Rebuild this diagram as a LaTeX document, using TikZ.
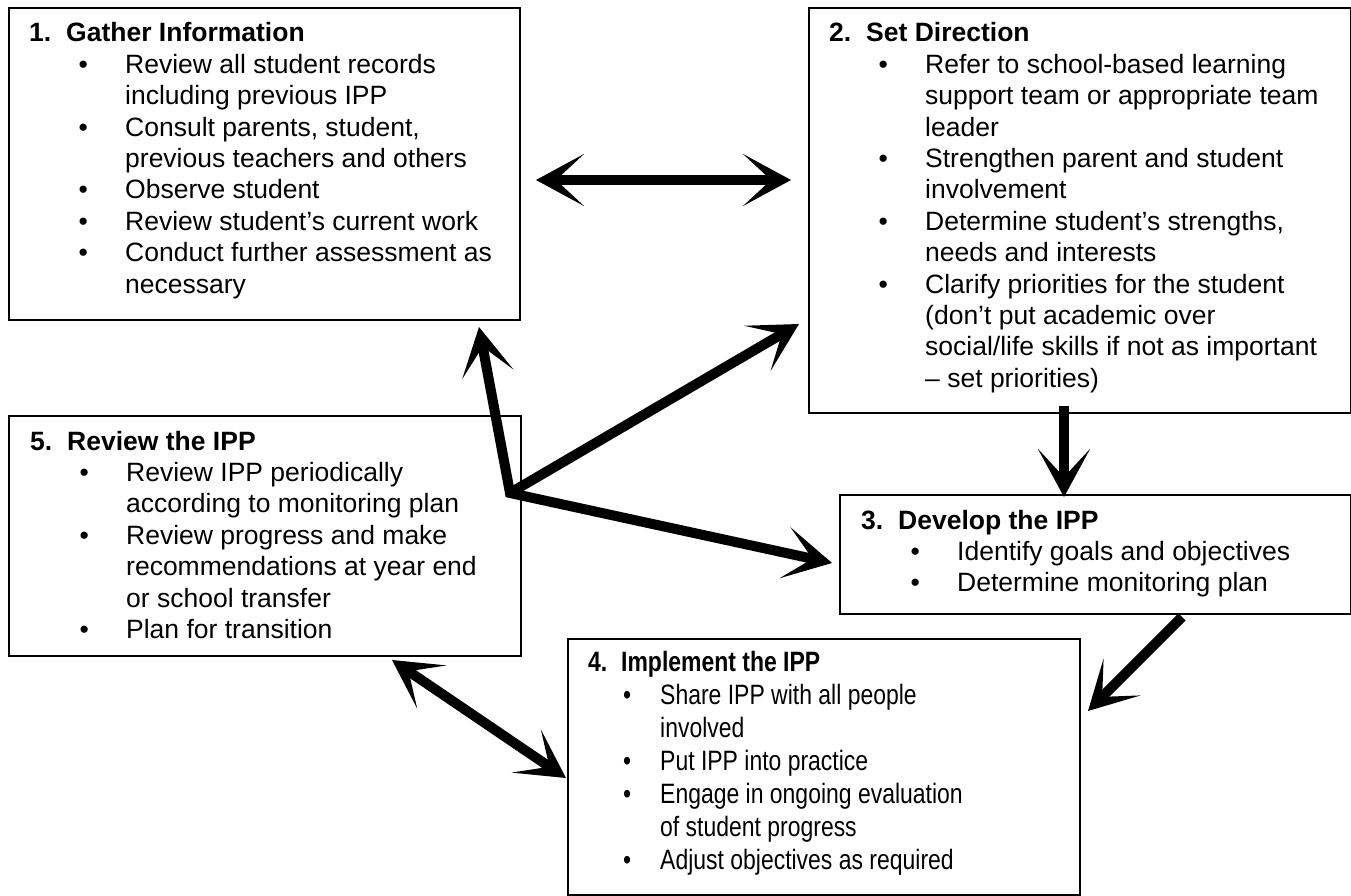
\documentclass[tikz,border=0pt]{standalone}
\usepackage{fontspec}
\setmainfont{Liberation Sans}
\newfontfamily\narrowsans[FakeStretch=0.82]{Liberation Sans}
\usetikzlibrary{arrows.meta}

% one line of a step box: number + title, bullet item, continuation
\newcommand\steptitle[2]{\hbox{\bfseries\makebox[37pt][l]{#1}#2}}
\newcommand\stepitem[1]{\hbox{\hspace*{54pt}\makebox[0pt]{\textbullet}\hspace*{42pt}#1}}
\newcommand\stepmore[1]{\hbox{\hspace*{96pt}#1}}
% the narrow-type box has its own indents
\newcommand\ntitle[2]{\hbox{\bfseries\makebox[33pt][l]{#1}#2}}
\newcommand\nitem[1]{\hbox{\hspace*{39pt}\makebox[0pt]{\textbullet}\hspace*{33pt}#1}}
\newcommand\nmore[1]{\hbox{\hspace*{72pt}#1}}
\newcommand\steplines[2][31.4pt]{\vtop{\baselineskip=#1\lineskiplimit=-100pt #2}}

\tikzset{
  stepbox/.style={draw=black, line width=2pt, rectangle, inner sep=0pt, anchor=north west},
  steptext/.style={inner sep=0pt, anchor=base west, font=\fontsize{26.5pt}{31.4pt}\selectfont},
  tipshape/.tip={Stealth[length=48pt,width=52pt,inset=28pt]},
  onearrow/.style={line width=10pt, -tipshape},
  twoarrow/.style={line width=10pt, tipshape-tipshape},
}

\begin{document}
\begin{tikzpicture}[x=1pt, y=-1pt]
\useasboundingbox[fill=white] (0,0) rectangle (1351,896);

% boxes
\node[stepbox, minimum width=511pt, minimum height=312pt] (box1) at (8,7) {};
\node[stepbox, minimum width=542pt, minimum height=405pt] (box2) at (808,7) {};
\node[stepbox, minimum width=511pt, minimum height=119pt] (box3) at (839,494) {};
\node[stepbox, minimum width=512pt, minimum height=256pt] (box4) at (567,638) {};
\node[stepbox, minimum width=512pt, minimum height=240pt] (box5) at (8,415) {};

% box contents
\node[steptext] (text1) at (29,42) {\steplines{%
  \steptitle{1.}{Gather Information}
  \stepitem{Review all student records}
  \stepmore{including previous IPP}
  \stepitem{Consult parents, student,}
  \stepmore{previous teachers and others}
  \stepitem{Observe student}
  \stepitem{Review student’s current work}
  \stepitem{Conduct further assessment as}
  \stepmore{necessary}}};

\node[steptext] (text2) at (829,42) {\steplines{%
  \steptitle{2.}{Set Direction}
  \stepitem{Refer to school-based learning}
  \stepmore{support team or appropriate team}
  \stepmore{leader}
  \stepitem{Strengthen parent and student}
  \stepmore{involvement}
  \stepitem{Determine student’s strengths,}
  \stepmore{needs and interests}
  \stepitem{Clarify priorities for the student}
  \stepmore{(don’t put academic over}
  \stepmore{social/life skills if not as important}
  \stepmore{– set priorities)}}};

\node[steptext] (text3) at (861,529) {\steplines{%
  \steptitle{3.}{Develop the IPP}
  \stepitem{Identify goals and objectives}
  \stepitem{Determine monitoring plan}}};

\node[steptext, font=\fontsize{28pt}{33pt}\narrowsans] (text4) at (588,671) {\steplines[33pt]{%
  \ntitle{4.}{Implement the IPP}
  \nitem{Share IPP with all people}
  \nmore{involved}
  \nitem{Put IPP into practice}
  \nitem{Engage in ongoing evaluation}
  \nmore{of student progress}
  \nitem{Adjust objectives as required}}};

\node[steptext] (text5) at (30,450) {\steplines{%
  \steptitle{5.}{Review the IPP}
  \stepitem{Review IPP periodically}
  \stepmore{according to monitoring plan}
  \stepitem{Review progress and make}
  \stepmore{recommendations at year end}
  \stepmore{or school transfer}
  \stepitem{Plan for transition}}};

% connector end points
\coordinate (h1) at (536,180);
\coordinate (h2) at (791,180);
\coordinate (v1) at (1064,406);
\coordinate (v2) at (1064,497);
\coordinate (d1) at (1182,617);
\coordinate (d2) at (1088,711);
\coordinate (e1) at (392,660);
\coordinate (e2) at (566,778);
\coordinate (hub) at (510,493);
\coordinate (to1) at (479,327);
\coordinate (to2) at (799,324);
\coordinate (to3) at (832,563);

% connectors
\draw[twoarrow] (h1) -- (h2);
\draw[onearrow] (v1) -- (v2);
\draw[onearrow] (d1) -- (d2);
\draw[twoarrow] (e1) -- (e2);
\draw[twoarrow, line join=miter] (to1) -- (hub) -- (to3);
\draw[onearrow] (hub) -- (to2);
\end{tikzpicture}
\end{document}
